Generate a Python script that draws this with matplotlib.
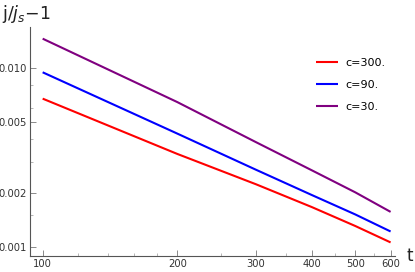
import matplotlib
matplotlib.use("Agg")
import matplotlib.pyplot as plt
from matplotlib.ticker import FixedLocator, NullFormatter

t = [100, 200, 300, 400, 500, 600]
c300 = [0.00674, 0.00331, 0.00224, 0.00167, 0.00131, 0.00106]
c90 = [0.00946, 0.00430, 0.00270, 0.00195, 0.00152, 0.00122]
c30 = [0.01458, 0.00645, 0.00385, 0.00268, 0.00202, 0.00157]
series = [("c=300.", c300, "#ff0000"), ("c=90.", c90, "#0000ff"), ("c=30.", c30, "#800080")]

yticks = [0.001, 0.002, 0.005, 0.010]
ytick_labels = ["0.001", "0.002", "0.005", "0.010"]
yminor = [0.0015, 0.003, 0.004, 0.006, 0.008]
xticks = [100, 200, 300, 400, 500, 600]
xtick_labels = ["100", "200", "300", "400", "500", "600"]
xminor = [120, 140, 160, 180, 250, 350, 450, 550]

plt.rcParams['font.family'] = ['DejaVu Sans']
fig = plt.figure(figsize=(4.15, 2.72), dpi=100)
ax = fig.add_axes([0.0723, 0.0588, 0.952 - 0.0723, 0.9007 - 0.0588])

for lab, ys, col in series:
    ax.plot(t, ys, color=col, lw=1.5, label=lab, solid_capstyle='butt')

ax.set_xscale('log')
ax.set_yscale('log')
ax.set_xlim(93.7, 614)
ax.set_ylim(0.00089, 0.01694)

ax.xaxis.set_major_locator(FixedLocator(xticks))
ax.set_xticklabels(xtick_labels)
ax.xaxis.set_minor_locator(FixedLocator(xminor))
ax.xaxis.set_minor_formatter(NullFormatter())
ax.yaxis.set_major_locator(FixedLocator(yticks))
ax.set_yticklabels(ytick_labels)
ax.yaxis.set_minor_locator(FixedLocator(yminor))
ax.yaxis.set_minor_formatter(NullFormatter())

for s in ['top', 'right']:
    ax.spines[s].set_visible(False)
for s in ['left', 'bottom']:
    ax.spines[s].set_color('#555555')
    ax.spines[s].set_linewidth(0.8)

ax.tick_params(which='major', direction='in', length=4, width=0.6, color='#777777',
               labelsize=7.2, labelcolor='#333333', pad=2)
ax.tick_params(which='minor', direction='in', length=2.5, width=0.5, color='#999999')

fig.text(0.005, 0.95, r"j/$j_s$$-$1", fontsize=12.5, color='#222222', va='center', ha='left')
fig.text(0.995, 0.06, "t", fontsize=12, color='#222222', va='center', ha='right')

leg = ax.legend(loc='upper left', bbox_to_anchor=(0.77, 0.885), frameon=False,
                fontsize=8, handlelength=2.0, handletextpad=0.7, labelspacing=1.1,
                borderaxespad=0)

fig.savefig("out.png", dpi=100)
